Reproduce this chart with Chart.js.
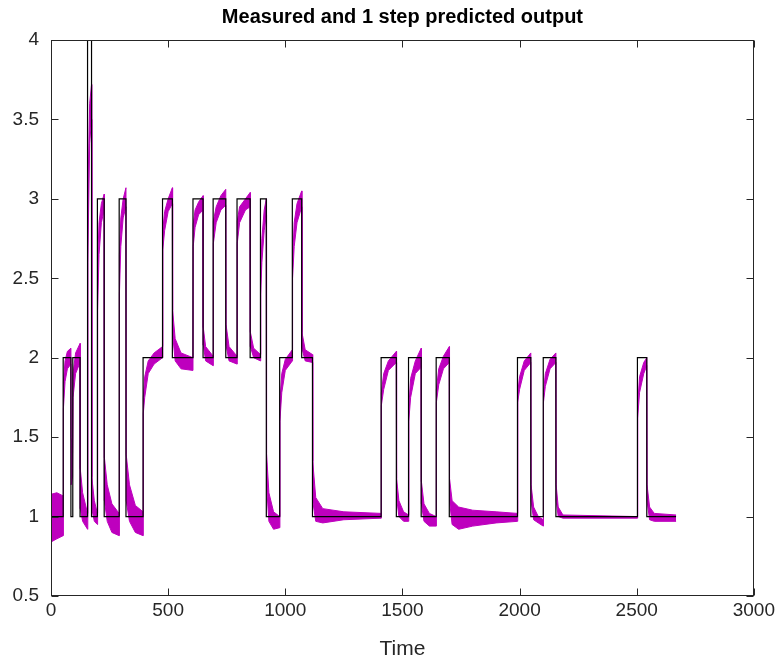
<!DOCTYPE html>
<html><head><meta charset="utf-8">
<script src="https://cdn.jsdelivr.net/npm/chart.js@4/dist/chart.umd.min.js"></script>
<style>html,body{margin:0;padding:0;background:#fff;}canvas{display:block;}</style>
</head><body>
<canvas id="c" width="778" height="663"></canvas>
<script>
const chartTitle = 'Measured and 1 step predicted output';
const xLabel = 'Time';
const xTicks = [0, 500, 1000, 1500, 2000, 2500, 3000];
const yTicks = [0.5, 1, 1.5, 2, 2.5, 3, 3.5, 4];

// measured output: value held from stepTime[i] until stepTime[i+1]
const stepTime = [0, 52, 85, 93, 124, 156, 173, 198, 227, 291, 320, 393, 476, 518, 606, 649, 692, 746, 794, 850, 894, 919, 976, 1030, 1070, 1116, 1409, 1474, 1526, 1580, 1644, 1700, 1991, 2048, 2101, 2155, 2503, 2543, 2668];
const measured = [1, 2, 1, 2, 1, 4, 1, 3, 1, 3, 1, 2, 3, 2, 3, 2, 3, 2, 3, 2, 3, 1, 2, 3, 2, 1, 2, 1, 2, 1, 2, 1, 2, 1, 2, 1, 2, 1, 1];

// 1-step predicted output: upper and lower edge of the oscillating band
const predTime = [0,25,52, 53,60,70,85, 86,92, 94,105,124, 125,135,156, 157,165,173, 174,185,198, 199,205,215,227, 228,240,260,291, 292,298,308,320, 321,335,360,393, 394,400,415,440,476, 477,485,500,518, 519,530,555,606, 607,615,630,649, 650,660,692, 693,705,725,746, 747,760,794, 795,805,830,850, 851,865,894, 895,900,910,919, 920,930,950,976, 977,985,1000,1030, 1031,1038,1050,1070, 1071,1085,1116, 1117,1130,1160,1250,1409, 1410,1420,1440,1474, 1475,1485,1505,1526, 1527,1535,1555,1580, 1581,1592,1615,1644, 1645,1655,1675,1700, 1701,1712,1740,1800,1900,1991, 1992,2000,2020,2048, 2049,2060,2080,2101, 2102,2110,2130,2155, 2156,2165,2185,2503, 2504,2512,2530,2543, 2544,2555,2575,2668];
const predUpper = [1.14,1.15,1.13, 1.85,1.98,2.04,2.06, 1.5,1.4, 1.9,2.03,2.09, 1.3,1.15,1.02, 3.0,3.6,3.72, 1.25,1.1,1.02, 2.6,2.85,2.97,3.03, 1.37,1.2,1.08,1.02, 2.65,2.88,3.0,3.07, 1.39,1.2,1.07,1.03, 1.75,1.88,1.98,2.03,2.07, 2.8,2.92,3.0,3.07, 2.3,2.12,2.03,2.0, 2.84,2.93,2.98,3.02, 2.19,2.07,2.01, 2.86,2.95,3.02,3.06, 2.21,2.07,2.01, 2.86,2.95,3.0,3.04, 2.16,2.06,2.02, 2.5,2.75,2.93,3.0, 1.4,1.15,1.03,1.0, 1.72,1.9,1.99,2.05, 2.6,2.85,2.97,3.05, 2.16,2.05,2.02, 1.35,1.12,1.05,1.03,1.02, 1.78,1.9,1.98,2.04, 1.24,1.1,1.03,1.01, 1.68,1.87,1.98,2.06, 1.22,1.08,1.02,1.0, 1.8,1.93,2.01,2.07, 1.24,1.1,1.06,1.04,1.03,1.02, 1.78,1.88,1.98,2.03, 1.2,1.06,1.0,0.98, 1.78,1.9,1.99,2.03, 1.2,1.06,1.01,1.0, 1.7,1.88,1.97,2.0, 1.2,1.06,1.02,1.01];
const predLower = [0.84,0.86,0.88, 1.68,1.85,1.93,1.96, 1.2,1.25, 1.75,1.9,1.97, 1.05,0.97,0.92, 2.6,3.35,3.5, 1.05,0.97,0.95, 2.3,2.65,2.85,2.93, 1.1,0.97,0.9,0.88, 2.4,2.7,2.88,2.95, 1.1,0.97,0.9,0.88, 1.65,1.75,1.9,1.96,2.0, 2.68,2.8,2.92,2.97, 2.15,1.98,1.93,1.92, 2.7,2.82,2.9,2.93, 2.08,1.98,1.95, 2.72,2.85,2.93,2.96, 2.08,1.98,1.96, 2.72,2.85,2.93,2.95, 2.07,2.0,1.98, 2.4,2.6,2.8,2.9, 1.2,0.97,0.92,0.93, 1.6,1.78,1.92,1.98, 2.5,2.7,2.85,2.95, 2.06,1.98,1.97, 1.1,0.97,0.96,0.98,0.99, 1.7,1.8,1.92,1.97, 1.12,1.0,0.97,0.97, 1.6,1.75,1.9,1.94, 1.08,0.97,0.94,0.94, 1.72,1.83,1.93,1.97, 1.1,0.95,0.92,0.94,0.96,0.97, 1.72,1.8,1.92,1.97, 1.1,0.98,0.96,0.94, 1.72,1.82,1.93,1.97, 1.1,1.0,0.99,0.99, 1.62,1.78,1.9,1.95, 1.1,0.98,0.97,0.97];

const FONT = 'Liberation Sans, Arial, Helvetica, sans-serif';
const AXIS = '#262626';
const MAG = 'rgb(190,0,190)';

const boxTicks = {
  id: 'boxTicks',
  afterDatasetsDraw(chart) {
    const {ctx, chartArea: a, scales: {x, y}} = chart;
    const L = Math.round(a.left) + 0.5, R = Math.round(a.right) - 0.5;
    const T = Math.round(a.top) + 0.5, B = Math.round(a.bottom) - 0.5;
    ctx.save();
    ctx.strokeStyle = AXIS;
    ctx.lineWidth = 1;
    ctx.strokeRect(L, T, R - L, B - T);
    ctx.beginPath();
    const len = 7;
    xTicks.forEach(v => {
      const px = Math.round(x.getPixelForValue(v)) + 0.5;
      ctx.moveTo(px, B); ctx.lineTo(px, B - len);
      ctx.moveTo(px, T); ctx.lineTo(px, T + len);
    });
    yTicks.forEach(v => {
      const py = Math.round(y.getPixelForValue(v)) + 0.5;
      ctx.moveTo(L, py); ctx.lineTo(L + len, py);
      ctx.moveTo(R, py); ctx.lineTo(R - len, py);
    });
    ctx.stroke();
    ctx.restore();
  }
};

new Chart(document.getElementById('c'), {
  type: 'line',
  data: {
    datasets: [
      {
        data: predTime.map((t, i) => ({x: t, y: predUpper[i]})),
        borderColor: MAG, backgroundColor: MAG, borderWidth: 1,
        pointRadius: 0, tension: 0, fill: false, order: 2
      },
      {
        data: predTime.map((t, i) => ({x: t, y: predLower[i]})),
        borderColor: MAG, backgroundColor: MAG, borderWidth: 1,
        pointRadius: 0, tension: 0, fill: '-1', order: 1
      },
      {
        data: stepTime.map((t, i) => ({x: t, y: measured[i]})),
        borderColor: '#000', borderWidth: 1.2, pointRadius: 0,
        stepped: true, fill: false, order: 0
      }
    ]
  },
  options: {
    responsive: false,
    animation: false,
    devicePixelRatio: 1,
    layout: {padding: {left: 0, right: 23, top: 0, bottom: 0}},
    plugins: {
      legend: {display: false},
      tooltip: {enabled: false},
      title: {
        display: true, text: chartTitle, color: '#000', fullSize: false,
        font: {family: FONT, size: 20, weight: 'bold'},
        padding: {top: 5, bottom: 11}
      }
    },
    scales: {
      x: {
        type: 'linear', min: 0, max: 3000,
        afterBuildTicks: s => { s.ticks = xTicks.map(v => ({value: v})); },
        afterFit: s => { s.height = 67; },
        grid: {display: false, drawTicks: false},
        border: {display: false},
        ticks: {color: AXIS, font: {family: FONT, size: 19}, padding: 3, maxRotation: 0, autoSkip: false,
                callback: v => String(v)},
        title: {display: true, text: xLabel, color: AXIS, font: {family: FONT, size: 21}, padding: {top: 0, bottom: 1}}
      },
      y: {
        type: 'linear', min: 0.5, max: 4,
        afterBuildTicks: s => { s.ticks = yTicks.map(v => ({value: v})); },
        afterFit: s => { s.width = 51; },
        grid: {display: false, drawTicks: false},
        border: {display: false},
        ticks: {color: AXIS, font: {family: FONT, size: 19}, padding: 12, autoSkip: false,
                callback: v => String(v)}
      }
    }
  },
  plugins: [boxTicks]
});
</script>
</body></html>
